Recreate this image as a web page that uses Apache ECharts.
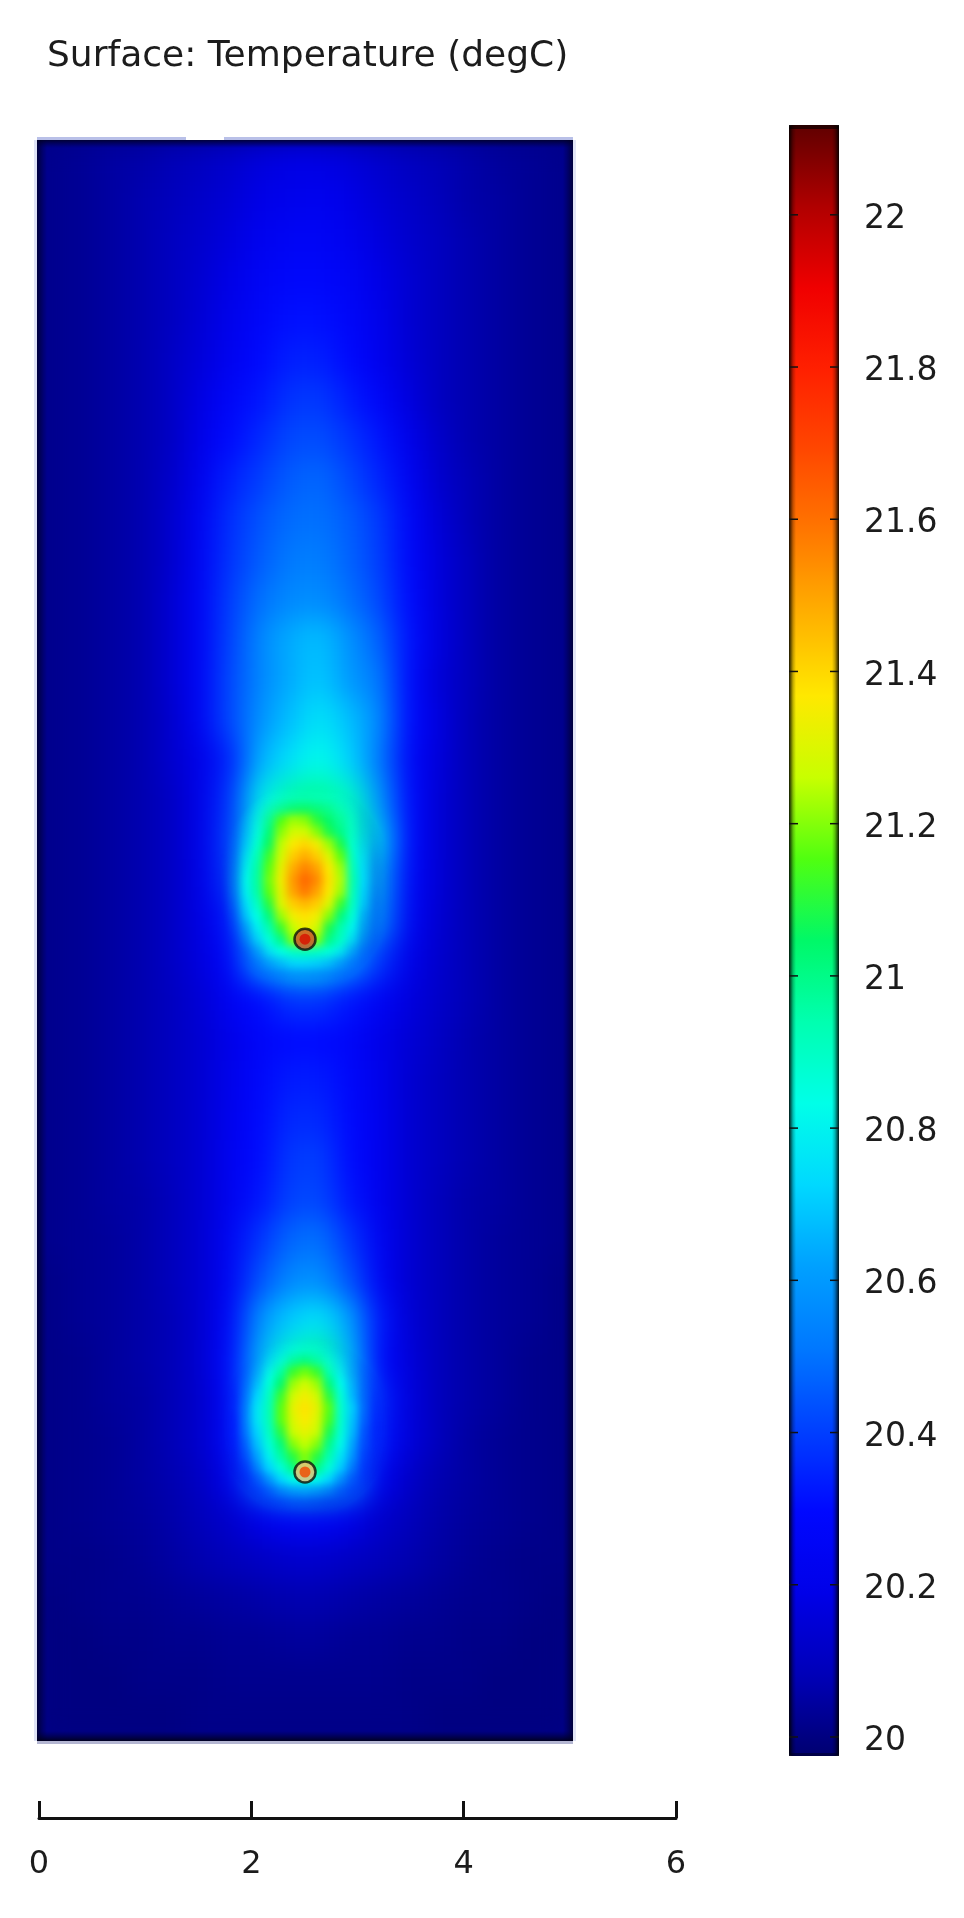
<!DOCTYPE html>
<html>
<head>
<meta charset="utf-8">
<style>
html,body{margin:0;padding:0;background:#fff}
#chart{width:964px;height:1918px}
/* soften the cell grids into a continuous surface; the wide layer stays inside the plot rectangle */
canvas[data-zr-dom-id="zr_1"]{filter:blur(14px);clip-path:inset(140px 391px 177px 37px)}
canvas[data-zr-dom-id="zr_2"]{
  filter:blur(4.5px);
  -webkit-mask-image:radial-gradient(ellipse 88px 106px at 305px 886px,#000 66%,transparent 100%),radial-gradient(ellipse 86px 90px at 305px 1426px,#000 66%,transparent 100%);
  mask-image:radial-gradient(ellipse 88px 106px at 305px 886px,#000 66%,transparent 100%),radial-gradient(ellipse 86px 90px at 305px 1426px,#000 66%,transparent 100%);
}
</style>
<script src="https://cdn.jsdelivr.net/npm/echarts@6/dist/echarts.min.js"></script>
</head>
<body>
<div id="chart"></div>
<script>
const titleText = 'Surface: Temperature (degC)';
const xTicks = [0, 2, 4, 6];
const colorbarTicks = [20, 20.2, 20.4, 20.6, 20.8, 21, 21.2, 21.4, 21.6, 21.8, 22];
const tempMin = 19.975;
const tempMax = 22.118;
const jetColors = ['#000070','#0000b8','#0000e8','#0008ff','#0040ff','#0078ff','#00a0ff','#00d8ff','#00ffe8','#00ffb0','#00f868','#50ff10','#c8ff00','#ffe800','#ffb000','#ff7800','#ff4800','#ff2000','#f00000','#b00000','#600000'];

// Whole surface, top to bottom (degC)
const fieldRows = [
[20.02,20.03,20.05,20.06,20.08,20.10,20.13,20.16,20.18,20.18,20.16,20.13,20.10,20.08,20.06,20.04,20.03,20.02],
[20.02,20.03,20.05,20.07,20.09,20.12,20.15,20.19,20.21,20.22,20.19,20.15,20.12,20.09,20.06,20.05,20.03,20.02],
[20.02,20.03,20.05,20.07,20.10,20.13,20.17,20.22,20.25,20.25,20.22,20.17,20.13,20.10,20.07,20.05,20.03,20.02],
[20.02,20.03,20.05,20.07,20.10,20.14,20.19,20.25,20.28,20.28,20.25,20.19,20.14,20.10,20.07,20.05,20.03,20.02],
[20.02,20.03,20.05,20.07,20.10,20.15,20.21,20.27,20.31,20.31,20.27,20.21,20.14,20.10,20.07,20.05,20.03,20.02],
[20.02,20.03,20.05,20.07,20.11,20.16,20.23,20.29,20.34,20.34,20.29,20.22,20.15,20.10,20.07,20.05,20.03,20.02],
[20.02,20.03,20.05,20.07,20.11,20.18,20.27,20.32,20.38,20.39,20.33,20.27,20.17,20.10,20.07,20.05,20.03,20.02],
[20.02,20.03,20.05,20.07,20.11,20.20,20.30,20.36,20.42,20.43,20.38,20.32,20.20,20.12,20.07,20.05,20.03,20.02],
[20.02,20.03,20.05,20.07,20.12,20.22,20.34,20.40,20.46,20.48,20.42,20.35,20.24,20.13,20.08,20.05,20.03,20.02],
[20.02,20.03,20.05,20.07,20.13,20.24,20.37,20.44,20.49,20.50,20.46,20.39,20.27,20.15,20.08,20.05,20.03,20.02],
[20.02,20.03,20.05,20.07,20.13,20.25,20.38,20.46,20.52,20.53,20.47,20.40,20.28,20.16,20.09,20.05,20.03,20.02],
[20.02,20.03,20.05,20.07,20.14,20.26,20.40,20.50,20.56,20.57,20.50,20.42,20.30,20.16,20.09,20.05,20.03,20.02],
[20.02,20.03,20.05,20.07,20.14,20.26,20.41,20.55,20.64,20.68,20.58,20.47,20.31,20.17,20.09,20.05,20.03,20.02],
[20.02,20.03,20.05,20.07,20.14,20.26,20.42,20.55,20.64,20.70,20.60,20.52,20.30,20.15,20.09,20.05,20.03,20.02],
[20.02,20.03,20.05,20.07,20.13,20.25,20.42,20.58,20.68,20.76,20.68,20.56,20.30,20.17,20.08,20.05,20.03,20.02],
[20.02,20.03,20.05,20.07,20.13,20.20,20.35,20.65,20.75,20.83,20.72,20.52,20.28,20.16,20.08,20.05,20.03,20.02],
[20.02,20.03,20.05,20.07,20.11,20.20,20.38,20.78,20.95,20.98,20.90,20.60,20.30,20.15,20.08,20.05,20.03,20.02],
[20.02,20.03,20.05,20.07,20.11,20.20,20.40,20.85,21.25,21.20,21.05,20.70,20.30,20.15,20.08,20.05,20.03,20.02],
[20.02,20.03,20.05,20.07,20.11,20.19,20.38,21.00,21.40,21.40,21.10,20.62,20.28,20.15,20.08,20.05,20.03,20.02],
[20.02,20.03,20.05,20.07,20.11,20.18,20.32,20.85,21.30,21.25,20.95,20.55,20.25,20.14,20.08,20.05,20.03,20.02],
[20.02,20.03,20.05,20.07,20.11,20.17,20.28,20.62,20.78,20.80,20.62,20.38,20.20,20.13,20.08,20.05,20.03,20.02],
[20.02,20.03,20.05,20.07,20.10,20.15,20.24,20.30,20.38,20.38,20.32,20.25,20.17,20.12,20.08,20.05,20.03,20.02],
[20.02,20.03,20.05,20.07,20.10,20.14,20.20,20.27,20.30,20.30,20.27,20.20,20.15,20.11,20.07,20.05,20.03,20.02],
[20.02,20.03,20.05,20.07,20.10,20.14,20.21,20.28,20.33,20.33,20.28,20.21,20.14,20.10,20.07,20.05,20.03,20.02],
[20.02,20.03,20.05,20.07,20.10,20.14,20.22,20.29,20.36,20.36,20.29,20.22,20.14,20.10,20.07,20.05,20.03,20.02],
[20.02,20.03,20.05,20.07,20.10,20.14,20.23,20.30,20.39,20.40,20.30,20.22,20.14,20.10,20.07,20.05,20.03,20.02],
[20.02,20.03,20.05,20.06,20.09,20.14,20.23,20.32,20.41,20.42,20.32,20.22,20.14,20.09,20.06,20.05,20.03,20.02],
[20.02,20.03,20.04,20.06,20.09,20.14,20.25,20.38,20.48,20.50,20.38,20.24,20.14,20.09,20.06,20.04,20.03,20.02],
[20.01,20.03,20.04,20.06,20.09,20.14,20.26,20.44,20.56,20.58,20.44,20.26,20.14,20.09,20.06,20.04,20.03,20.01],
[20.01,20.03,20.04,20.06,20.08,20.14,20.28,20.58,20.70,20.76,20.62,20.32,20.15,20.09,20.06,20.04,20.03,20.01],
[20.01,20.02,20.04,20.06,20.08,20.14,20.30,20.65,20.90,20.98,20.68,20.30,20.16,20.09,20.06,20.04,20.02,20.01],
[20.01,20.02,20.04,20.05,20.08,20.13,20.28,20.72,21.22,21.30,20.80,20.34,20.17,20.09,20.06,20.04,20.02,20.01],
[20.01,20.02,20.03,20.05,20.08,20.13,20.27,20.70,21.20,21.28,20.80,20.32,20.16,20.09,20.05,20.03,20.02,20.01],
[20.01,20.02,20.03,20.05,20.07,20.11,20.20,20.50,20.82,20.88,20.55,20.22,20.12,20.07,20.05,20.03,20.02,20.01],
[20.01,20.02,20.03,20.04,20.06,20.09,20.13,20.20,20.25,20.25,20.20,20.13,20.09,20.06,20.04,20.03,20.02,20.01],
[20.01,20.01,20.02,20.03,20.05,20.07,20.09,20.11,20.13,20.13,20.11,20.09,20.07,20.05,20.03,20.02,20.01,20.01],
[20.00,20.01,20.02,20.02,20.03,20.04,20.05,20.06,20.07,20.07,20.06,20.05,20.04,20.03,20.02,20.02,20.01,20.00],
[20.00,20.00,20.01,20.01,20.02,20.02,20.03,20.03,20.04,20.04,20.03,20.03,20.02,20.02,20.01,20.01,20.00,20.00],
[20.00,20.00,20.00,20.01,20.01,20.01,20.02,20.02,20.02,20.02,20.02,20.02,20.01,20.01,20.01,20.00,20.00,20.00],
[20.00,20.00,20.00,20.00,20.00,20.01,20.01,20.01,20.01,20.01,20.01,20.01,20.01,20.00,20.00,20.00,20.00,20.00]
];

// Upper heat plume, finer reading around the source
const upperPlumeRows = [
[20.48,20.72,20.80,20.84,20.88,20.90,20.90,20.88,20.86,20.80,20.70,20.55,20.40],
[20.50,20.72,20.84,20.95,21.00,21.04,21.05,21.02,20.98,20.90,20.80,20.60,20.42],
[20.50,20.72,20.85,21.00,21.15,21.22,21.20,21.10,21.04,20.96,20.84,20.65,20.45],
[20.50,20.70,20.85,21.02,21.20,21.28,21.28,21.20,21.08,21.00,20.86,20.68,20.48],
[20.50,20.72,20.88,21.06,21.25,21.36,21.40,21.34,21.22,21.08,20.88,20.70,20.50],
[20.52,20.76,20.92,21.12,21.28,21.42,21.48,21.42,21.30,21.16,20.90,20.72,20.50],
[20.54,20.78,20.95,21.16,21.32,21.48,21.56,21.50,21.36,21.22,20.92,20.72,20.50],
[20.55,20.80,20.96,21.18,21.34,21.52,21.62,21.55,21.38,21.24,20.94,20.72,20.50],
[20.54,20.78,20.95,21.16,21.32,21.50,21.58,21.50,21.36,21.22,20.92,20.70,20.48],
[20.50,20.74,20.90,21.10,21.30,21.42,21.46,21.42,21.30,21.12,20.90,20.68,20.45],
[20.46,20.70,20.84,21.02,21.22,21.34,21.38,21.34,21.20,21.02,20.86,20.62,20.42],
[20.42,20.62,20.78,20.94,21.12,21.26,21.34,21.28,21.08,20.94,20.80,20.56,20.38],
[20.38,20.55,20.72,20.86,21.00,21.20,21.40,21.20,21.00,20.90,20.74,20.50,20.34],
[20.32,20.45,20.60,20.76,20.84,20.90,20.92,20.90,20.86,20.78,20.62,20.42,20.30],
[20.30,20.38,20.46,20.58,20.66,20.72,20.72,20.70,20.66,20.56,20.44,20.35,20.28],
[20.28,20.32,20.36,20.42,20.46,20.50,20.50,20.48,20.45,20.40,20.34,20.30,20.26]
];

// Lower heat plume, finer reading around the source
const lowerPlumeRows = [
[20.28,20.40,20.56,20.70,20.78,20.84,20.86,20.84,20.78,20.68,20.52,20.36,20.28],
[20.29,20.42,20.60,20.76,20.86,20.98,21.02,20.96,20.86,20.74,20.58,20.38,20.28],
[20.30,20.45,20.64,20.82,20.96,21.12,21.18,21.12,20.94,20.78,20.60,20.40,20.28],
[20.30,20.48,20.68,20.86,21.04,21.22,21.28,21.22,21.02,20.82,20.64,20.42,20.30],
[20.30,20.50,20.72,20.90,21.12,21.28,21.34,21.28,21.10,20.86,20.66,20.44,20.30],
[20.32,20.52,20.76,20.92,21.16,21.32,21.38,21.32,21.16,20.88,20.70,20.46,20.30],
[20.30,20.52,20.76,20.92,21.16,21.30,21.36,21.30,21.14,20.88,20.68,20.45,20.30],
[20.30,20.50,20.72,20.90,21.10,21.27,21.32,21.27,21.08,20.86,20.66,20.42,20.28],
[20.28,20.46,20.68,20.86,21.02,21.20,21.26,21.20,21.00,20.82,20.62,20.40,20.27],
[20.24,20.42,20.62,20.80,20.96,21.10,21.20,21.10,20.94,20.76,20.58,20.36,20.24],
[20.20,20.36,20.54,20.72,20.86,21.00,21.20,21.00,20.86,20.70,20.50,20.32,20.20],
[20.17,20.28,20.42,20.58,20.72,20.82,20.85,20.82,20.72,20.56,20.40,20.26,20.16],
[20.14,20.20,20.30,20.40,20.50,20.56,20.58,20.54,20.48,20.38,20.28,20.20,20.13],
[20.12,20.16,20.22,20.28,20.32,20.36,20.36,20.34,20.30,20.26,20.20,20.16,20.11]
];

// Heat sources: position in plot units, rim and core colours
const sourceX = [2.5, 2.5];
const sourceY = [7.47, 2.5];
const sourceRim = ['#c85030', '#f0c080'];
const sourceCore = ['#d81000', '#f04800'];

const cells = rows => rows.flatMap((row, j) => row.map((v, i) => [i, j, v]));
const idx = n => Array.from({length: n}, (_, i) => i);
const hiddenCat = (gridIndex, n, inverse) => ({
  type: 'category', gridIndex, data: idx(n), show: false, inverse: !!inverse,
  boundaryGap: true
});

const fieldSeries = (rows, grid, zlevel) => ({
  type: 'heatmap', xAxisIndex: grid, yAxisIndex: grid, data: cells(rows),
  zlevel, progressive: 0, animation: false, silent: true,
  emphasis: {disabled: true}, itemStyle: {borderWidth: 0}
});

const fontFamily = '"DejaVu Sans", sans-serif';
const labelFormat = v => String(Math.round(v * 10) / 10);

const option = {
  animation: false,
  backgroundColor: '#fff',
  title: {
    text: titleText, left: 42, top: 34,
    textStyle: {fontFamily, fontWeight: 'normal', fontSize: 36, color: '#1c1c1c'}
  },
  grid: [
    {left: 37, top: 140, width: 536, height: 1600},   // surface
    {left: 227, top: 790, width: 156, height: 192},   // upper plume
    {left: 227, top: 1342, width: 156, height: 168},  // lower plume
    {left: 37, top: 140, width: 536, height: 1600},   // sources (length units)
    {left: 39, top: 1801, width: 637, height: 17},    // scale axis
    {left: 789, top: 125, width: 50, height: 1631},   // colour bar ticks
    {left: 789, top: 129.5, width: 50, height: 1631}  // colour bar labels
  ],
  xAxis: [
    hiddenCat(0, fieldRows[0].length),
    hiddenCat(1, upperPlumeRows[0].length),
    hiddenCat(2, lowerPlumeRows[0].length),
    {type: 'value', gridIndex: 3, min: 0, max: 5, show: false},
    {
      type: 'value', gridIndex: 4, min: 0, max: 6, interval: 2, position: 'bottom',
      splitLine: {show: false},
      axisLine: {show: true, lineStyle: {color: '#111', width: 3}},
      axisTick: {show: true, inside: true, length: 17, lineStyle: {color: '#111', width: 3}},
      axisLabel: {
        show: true, margin: 31, fontFamily, fontSize: 32, color: '#1c1c1c',
        customValues: xTicks, formatter: labelFormat
      }
    },
    {type: 'value', gridIndex: 5, min: 0, max: 1, show: false},
    {type: 'value', gridIndex: 6, min: 0, max: 1, show: false}
  ],
  yAxis: [
    hiddenCat(0, fieldRows.length, true),
    hiddenCat(1, upperPlumeRows.length, true),
    hiddenCat(2, lowerPlumeRows.length, true),
    {type: 'value', gridIndex: 3, min: 0, max: 14.925, show: false},
    {type: 'value', gridIndex: 4, min: 0, max: 1, show: false},
    {type: 'value', gridIndex: 5, min: tempMin, max: tempMax, show: false},
    {
      type: 'value', gridIndex: 6, min: tempMin, max: tempMax, position: 'right', z: 10,
      splitLine: {show: false},
      axisLine: {show: false},
      axisTick: {show: false},
      axisLabel: {
        show: true, margin: 25, fontFamily, fontSize: 33, color: '#1c1c1c',
        customValues: colorbarTicks, formatter: labelFormat
      }
    }
  ],
  visualMap: {
    type: 'continuous', show: true, seriesIndex: [0, 1, 2], dimension: 2,
    min: tempMin, max: tempMax, calculable: false, hoverLink: false, realtime: false,
    left: 789, top: 125, itemWidth: 50, itemHeight: 1631, padding: 0, text: null,
    showLabel: false, z: 4,
    inRange: {color: jetColors},
    textStyle: {fontSize: 0}
  },
  graphic: {
    elements: [
      // backdrop behind the softened surface
      {type: 'rect', zlevel: 0, z: 0, shape: {x: 37, y: 140, width: 536, height: 1601}, style: {fill: '#000088'}, silent: true},
      // pale frame round the surface, with its gap in the top edge
      {type: 'rect', zlevel: 0, z: 0, shape: {x: 34, y: 140, width: 3, height: 1601}, style: {fill: '#dfe3f6'}, silent: true},
      {type: 'rect', zlevel: 0, z: 0, shape: {x: 573, y: 140, width: 3, height: 1601}, style: {fill: '#e2e5f6'}, silent: true},
      {type: 'rect', zlevel: 0, z: 0, shape: {x: 37, y: 137, width: 149, height: 3}, style: {fill: '#b9c0e8'}, silent: true},
      {type: 'rect', zlevel: 0, z: 0, shape: {x: 224, y: 137, width: 349, height: 3}, style: {fill: '#b9c0e8'}, silent: true},
      {type: 'rect', zlevel: 0, z: 0, shape: {x: 37, y: 1741, width: 536, height: 3}, style: {fill: '#b4b6d2'}, silent: true},
      // dark rim of the surface
      {type: 'rect', zlevel: 3, z: 5, shape: {x: 37, y: 140, width: 10, height: 1601}, silent: true,
        style: {fill: new echarts.graphic.LinearGradient(0, 0, 1, 0, [{offset: 0, color: 'rgba(0,0,40,0.8)'}, {offset: 1, color: 'rgba(0,0,60,0)'}])}},
      {type: 'rect', zlevel: 3, z: 5, shape: {x: 563, y: 140, width: 10, height: 1601}, silent: true,
        style: {fill: new echarts.graphic.LinearGradient(0, 0, 1, 0, [{offset: 0, color: 'rgba(0,0,60,0)'}, {offset: 1, color: 'rgba(0,0,40,0.8)'}])}},
      {type: 'rect', zlevel: 3, z: 5, shape: {x: 37, y: 140, width: 536, height: 8}, silent: true,
        style: {fill: new echarts.graphic.LinearGradient(0, 0, 0, 1, [{offset: 0, color: 'rgba(0,0,30,0.8)'}, {offset: 1, color: 'rgba(0,0,60,0)'}])}},
      {type: 'rect', zlevel: 3, z: 5, shape: {x: 37, y: 1731, width: 536, height: 10}, silent: true,
        style: {fill: new echarts.graphic.LinearGradient(0, 0, 0, 1, [{offset: 0, color: 'rgba(0,0,60,0)'}, {offset: 1, color: 'rgba(0,0,20,0.9)'}])}},
      // dark rim of the colour bar
      {type: 'rect', zlevel: 0, z: 8, shape: {x: 789, y: 125, width: 50, height: 1631}, silent: true,
        style: {fill: new echarts.graphic.LinearGradient(0, 0, 1, 0, [
          {offset: 0, color: 'rgba(0,0,0,0.9)'}, {offset: 0.08, color: 'rgba(0,0,0,0.25)'}, {offset: 0.14, color: 'rgba(0,0,0,0)'},
          {offset: 0.86, color: 'rgba(0,0,0,0)'}, {offset: 0.92, color: 'rgba(0,0,0,0.25)'}, {offset: 1, color: 'rgba(0,0,0,0.9)'}
        ])}},
      {type: 'rect', zlevel: 0, z: 8, shape: {x: 789, y: 125, width: 50, height: 4}, silent: true, style: {fill: 'rgba(0,0,0,0.6)'}},
      {type: 'rect', zlevel: 0, z: 8, shape: {x: 789, y: 1753, width: 50, height: 3}, silent: true, style: {fill: 'rgba(0,0,30,0.5)'}}
    ]
  },
  series: [
    fieldSeries(fieldRows, 0, 1),
    fieldSeries(upperPlumeRows, 1, 2),
    fieldSeries(lowerPlumeRows, 2, 2),
    {
      type: 'scatter', xAxisIndex: 3, yAxisIndex: 3, zlevel: 3, z: 6, silent: true, animation: false,
      symbol: 'circle', symbolSize: 21,
      data: sourceX.map((x, i) => ({value: [x, sourceY[i]], itemStyle: {color: sourceRim[i], borderColor: '#0a140a', borderWidth: 2.5}}))
    },
    {
      type: 'scatter', xAxisIndex: 3, yAxisIndex: 3, zlevel: 3, z: 7, silent: true, animation: false,
      symbol: 'circle', symbolSize: 11,
      data: sourceX.map((x, i) => ({value: [x, sourceY[i]], itemStyle: {color: sourceCore[i]}}))
    },
    {
      // short ticks inside the left edge of the colour bar
      type: 'scatter', xAxisIndex: 5, yAxisIndex: 5, z: 9, silent: true, animation: false,
      symbol: 'rect', symbolSize: [9, 1.5], symbolOffset: [4.5, 0], itemStyle: {color: '#111', opacity: 1},
      data: colorbarTicks.map(v => [0, v])
    },
    {
      // short ticks inside the right edge of the colour bar
      type: 'scatter', xAxisIndex: 5, yAxisIndex: 5, z: 9, silent: true, animation: false,
      symbol: 'rect', symbolSize: [9, 1.5], symbolOffset: [-4.5, 0], itemStyle: {color: '#111', opacity: 1},
      data: colorbarTicks.map(v => [1, v])
    }
  ]
};

const chart = echarts.init(document.getElementById('chart'), null, {renderer: 'canvas', width: 964, height: 1918});
chart.setOption(option);
</script>
</body>
</html>
